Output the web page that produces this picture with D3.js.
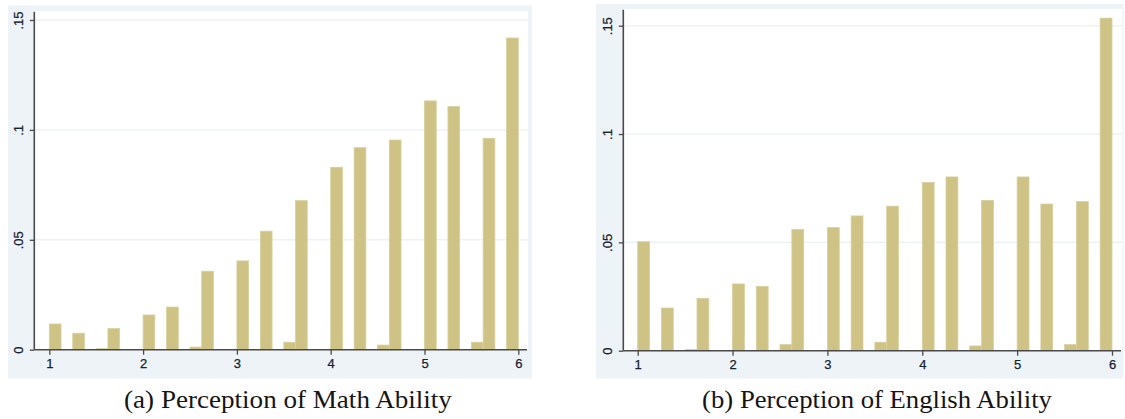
<!DOCTYPE html>
<html>
<head>
<meta charset="utf-8">
<script src="https://cdn.jsdelivr.net/npm/d3@7"></script>
<style>
  html, body { margin: 0; padding: 0; background: #ffffff; }
  svg { display: block; }
</style>
</head>
<body>
<svg id="chart" width="1125" height="419"></svg>
<script>
// Histogram bins (left edge of each 0.125-wide bin) and fraction of respondents
const binWidth = 0.125;

const mathBins = [1, 1.25, 1.5, 1.625, 2, 2.25, 2.5, 2.625, 3, 3.25, 3.5, 3.625,
                  4, 4.25, 4.5, 4.625, 5, 5.25, 5.5, 5.625, 5.875];
const mathValues = [0.0117, 0.0075, 0.0005, 0.0096, 0.0158, 0.0194, 0.0012, 0.0357,
                    0.0404, 0.0539, 0.0034, 0.0678, 0.0830, 0.0919, 0.0021, 0.0954,
                    0.1132, 0.1106, 0.0034, 0.0962, 0.1418];

const englishBins = [1, 1.25, 1.5, 1.625, 2, 2.25, 2.5, 2.625, 3, 3.25, 3.5, 3.625,
                     4, 4.25, 4.5, 4.625, 5, 5.25, 5.5, 5.625, 5.875];
const englishValues = [0.0503, 0.0197, 0.0006, 0.0242, 0.0308, 0.0297, 0.0028, 0.0559,
                       0.0568, 0.0622, 0.0039, 0.0667, 0.0776, 0.0802, 0.0022, 0.0694,
                       0.0802, 0.0677, 0.0028, 0.0688, 0.1535];

const xTicks = [1, 2, 3, 4, 5, 6];
const yTicks = [0, 0.05, 0.1, 0.15];
const yTickLabels = ["0", ".05", ".1", ".15"];

const captions = ["(a) Perception of Math Ability", "(b) Perception of English Ability"];

const svg = d3.select("#chart");

const panels = [
  { bins: mathBins, values: mathValues, caption: captions[0],
    outer: { x0: 8, x1: 532, y0: 5.5, y1: 378.5 },
    plot:  { x0: 34.3, x1: 528, y0: 11, y1: 349.7 },
    xRange: [49.3, 518.3], yRange: [349.7, 20],
    captionSpan: [124, 452] },
  { bins: englishBins, values: englishValues, caption: captions[1],
    outer: { x0: 596, x1: 1123.5, y0: 4, y1: 378.5 },
    plot:  { x0: 623.3, x1: 1122, y0: 9, y1: 350.7 },
    xRange: [637.7, 1112], yRange: [350.7, 25.7],
    captionSpan: [702, 1052] }
];

const tickFont = "Liberation Sans, Arial, sans-serif";

panels.forEach(p => {
  const g = svg.append("g");

  // graph region and plot region
  g.append("rect")
    .attr("x", p.outer.x0).attr("y", p.outer.y0)
    .attr("width", p.outer.x1 - p.outer.x0).attr("height", p.outer.y1 - p.outer.y0)
    .attr("fill", "#eef3f8");
  g.append("rect")
    .attr("x", p.plot.x0).attr("y", p.plot.y0)
    .attr("width", p.plot.x1 - p.plot.x0).attr("height", p.plot.y1 - p.plot.y0)
    .attr("fill", "#ffffff");

  const x = d3.scaleLinear().domain([1, 6]).range(p.xRange);
  const y = d3.scaleLinear().domain([0, 0.15]).range(p.yRange);

  // horizontal grid lines
  g.append("g").selectAll("line")
    .data(yTicks.filter(t => t > 0))
    .join("line")
    .attr("x1", p.plot.x0).attr("x2", p.plot.x1)
    .attr("y1", d => y(d)).attr("y2", d => y(d))
    .attr("stroke", "#edf2f7").attr("stroke-width", 1.5);

  // bars
  const data = p.bins.map((b, i) => ({ start: b, value: p.values[i] }));
  g.append("g").selectAll("rect")
    .data(data)
    .join("rect")
    .attr("x", d => x(d.start))
    .attr("width", d => x(d.start + binWidth) - x(d.start))
    .attr("y", d => y(d.value))
    .attr("height", d => y(0) - y(d.value))
    .attr("fill", "#cec384")
    .attr("stroke", "#d8d09f")
    .attr("stroke-width", 0.8);

  // x axis
  const xAxis = d3.axisBottom(x).tickValues(xTicks).tickFormat(d3.format("d"))
    .tickSize(5).tickSizeOuter(0).tickPadding(4);
  const gx = g.append("g").attr("transform", `translate(0,${y(0)})`).call(xAxis);
  gx.select(".domain").attr("d", `M${p.plot.x0},0H${p.plot.x1 - 1}`)
    .attr("stroke", "#4a4a4a").attr("stroke-width", 1.6);
  gx.selectAll(".tick line").attr("stroke", "#4a4a4a").attr("stroke-width", 1.3);
  gx.selectAll(".tick text")
    .attr("font-family", tickFont)
    .attr("font-size", 13).attr("fill", "#17222f")
    .attr("stroke", "#17222f").attr("stroke-width", 0.25)
    .attr("y", 9).attr("dy", "0.71em");

  // y axis
  const yAxis = d3.axisLeft(y).tickValues(yTicks)
    .tickFormat((d, i) => yTickLabels[i])
    .tickSize(4.5).tickSizeOuter(0).tickPadding(0);
  const gy = g.append("g").attr("transform", `translate(${p.plot.x0},0)`).call(yAxis);
  gy.select(".domain").attr("d", `M0,${p.plot.y0 + 0.7}V${y(0)}`)
    .attr("stroke", "#4a4a4a").attr("stroke-width", 1.6);
  gy.selectAll(".tick line").attr("stroke", "#4a4a4a").attr("stroke-width", 1.3);
  gy.selectAll(".tick text")
    .attr("font-family", tickFont)
    .attr("font-size", 13).attr("fill", "#17222f")
    .attr("stroke", "#17222f").attr("stroke-width", 0.25)
    .attr("x", null).attr("dy", null)
    .attr("text-anchor", "middle")
    .attr("transform", "translate(-11.3,0) rotate(-90)");

  // caption below the panel, widened to span the caption line
  const cx = (p.captionSpan[0] + p.captionSpan[1]) / 2;
  const cap = svg.append("text")
    .attr("x", 0).attr("y", 0)
    .attr("text-anchor", "middle")
    .attr("font-family", "Liberation Serif, Times New Roman, serif")
    .attr("font-size", 24.5)
    .attr("fill", "#151515")
    .text(p.caption);
  const w = cap.node().getComputedTextLength();
  const target = p.captionSpan[1] - p.captionSpan[0];
  cap.attr("transform", `translate(${cx},408) scale(${target / w},1)`);
});
</script>
</body>
</html>
